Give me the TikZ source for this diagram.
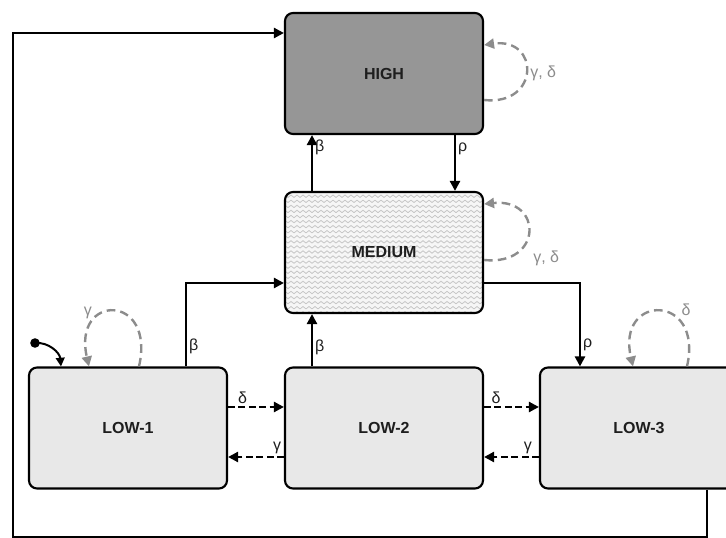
\documentclass[tikz,border=0pt]{standalone}
\usepackage{fontspec}
\setmainfont{Liberation Sans}
\usetikzlibrary{arrows.meta,patterns}

% light zig-zag rows used as the hatching of the middle state
\pgfdeclarepatternformonly{zigzagrows}{\pgfqpoint{-1pt}{-1pt}}{\pgfqpoint{5.5pt}{5pt}}{\pgfqpoint{4.5pt}{3.8pt}}{%
  \pgfsetlinewidth{0.6pt}%
  \pgfpathmoveto{\pgfqpoint{0pt}{0.8pt}}%
  \pgfpathlineto{\pgfqpoint{2.25pt}{2.6pt}}%
  \pgfpathlineto{\pgfqpoint{4.5pt}{0.8pt}}%
  \pgfusepath{stroke}}

\definecolor{highfill}{HTML}{969696}
\definecolor{lowfill}{HTML}{E8E8E8}
\definecolor{medfill}{HTML}{F6F6F6}
\definecolor{loopgray}{HTML}{8C8C8C}
\definecolor{inkdark}{HTML}{1E1E1E}

\tikzset{
  state/.style={draw=black, line width=1.6pt, rounded corners=6pt, inner sep=0pt,
    minimum width=148.5pt, minimum height=90.75pt,
    font=\fontsize{12}{14}\selectfont\bfseries, text=inkdark},
  trans/.style={draw=black, line width=1.8pt, -{Triangle[length=7.5pt,width=7.5pt]}},
  sidestep/.style={trans, dash pattern=on 5pt off 2.8pt},
  selfloop/.style={draw=loopgray, line width=1.8pt, dash pattern=on 6.5pt off 3.8pt,
    -{Triangle[length=7.5pt,width=7.5pt]}},
  glabel/.style={font=\fontsize{12}{14}\selectfont, text=inkdark, inner sep=1.5pt},
  llabel/.style={font=\fontsize{12}{14}\selectfont, text=loopgray, inner sep=1.5pt},
}

\begin{document}
\begin{tikzpicture}[x=0.75pt, y=-0.75pt]
  \useasboundingbox (0,0) rectangle (726,538);

  % states
  \node[state, fill=highfill] (high) at (384,73.5) {HIGH};
  \node[state, preaction={fill=medfill}, pattern=zigzagrows, pattern color=black!22]
    (med) at (384,252.5) {MEDIUM};
  \node[state, fill=lowfill] (low1) at (128,428) {LOW-1};
  \node[state, fill=lowfill] (low2) at (384,428) {LOW-2};
  \node[state, fill=lowfill] (low3) at (639,428) {LOW-3};

  % transitions between high and medium
  \draw[trans] (312,0 |- med.north) -- (312,0 |- high.south)
    node[glabel, pos=0.78, right] (b1) {β};
  \draw[trans] (455,0 |- high.south) -- (455,0 |- med.north)
    node[glabel, pos=0.24, right] (r1) {ρ};

  % transitions into and out of medium
  \draw[trans] (186,0 |- low1.north) |- (med.west |- 0,283)
    node[glabel, pos=0.12, right] (b2) {β};
  \draw[trans] (312,0 |- low2.north) -- (312,0 |- med.south)
    node[glabel, pos=0.36, right] (b3) {β};
  \draw[trans] (med.east |- 0,283) -| (580,0 |- low3.north)
    node[glabel, pos=0.87, right] (r2) {ρ};

  % sideways moves between the low states
  \draw[sidestep] (low1.east |- 0,407) -- (low2.west |- 0,407)
    node[glabel, pos=0.26, above] (d1) {δ};
  \draw[sidestep] (low2.west |- 0,457) -- (low1.east |- 0,457)
    node[glabel, pos=0.12, above] (g1) {γ};
  \draw[sidestep] (low2.east |- 0,407) -- (low3.west |- 0,407)
    node[glabel, pos=0.22, above] (d2) {δ};
  \draw[sidestep] (low3.west |- 0,457) -- (low2.east |- 0,457)
    node[glabel, pos=0.2, above] (g2) {γ};

  % return path from low-3 to high
  \coordinate (retbl) at (13,537);
  \draw[trans] (707,0 |- low3.south) |- (retbl) |- (high.west |- 0,33);

  % self loops
  \draw[selfloop] (high.east |- 0,100) .. controls (540,106) and (540,37) .. (high.east |- 0,45);
  \node[llabel, anchor=west] (hl) at (528,73) {γ, δ};
  \draw[selfloop] (med.east |- 0,260) .. controls (543,266) and (543,198) .. (med.east |- 0,204);
  \node[llabel, anchor=west] (ml) at (531,258) {γ, δ};
  \draw[selfloop] (139,0 |- low1.north) .. controls (156,293) and (72,293) .. (89,0 |- low1.north);
  \node[llabel] (l1l) at (88,313) {γ};
  \draw[selfloop] (687,0 |- low3.north) .. controls (704,293) and (616,293) .. (633,0 |- low3.north);
  \node[llabel] (l3l) at (686,310) {δ};

  % start marker
  \fill (35,343) circle (3.6pt) coordinate (start);
  \draw[line width=1.5pt, -{Triangle[length=6.5pt,width=6.5pt]}] (start) to[out=5, in=95] (61,0 |- low1.north);
\end{tikzpicture}
\end{document}
